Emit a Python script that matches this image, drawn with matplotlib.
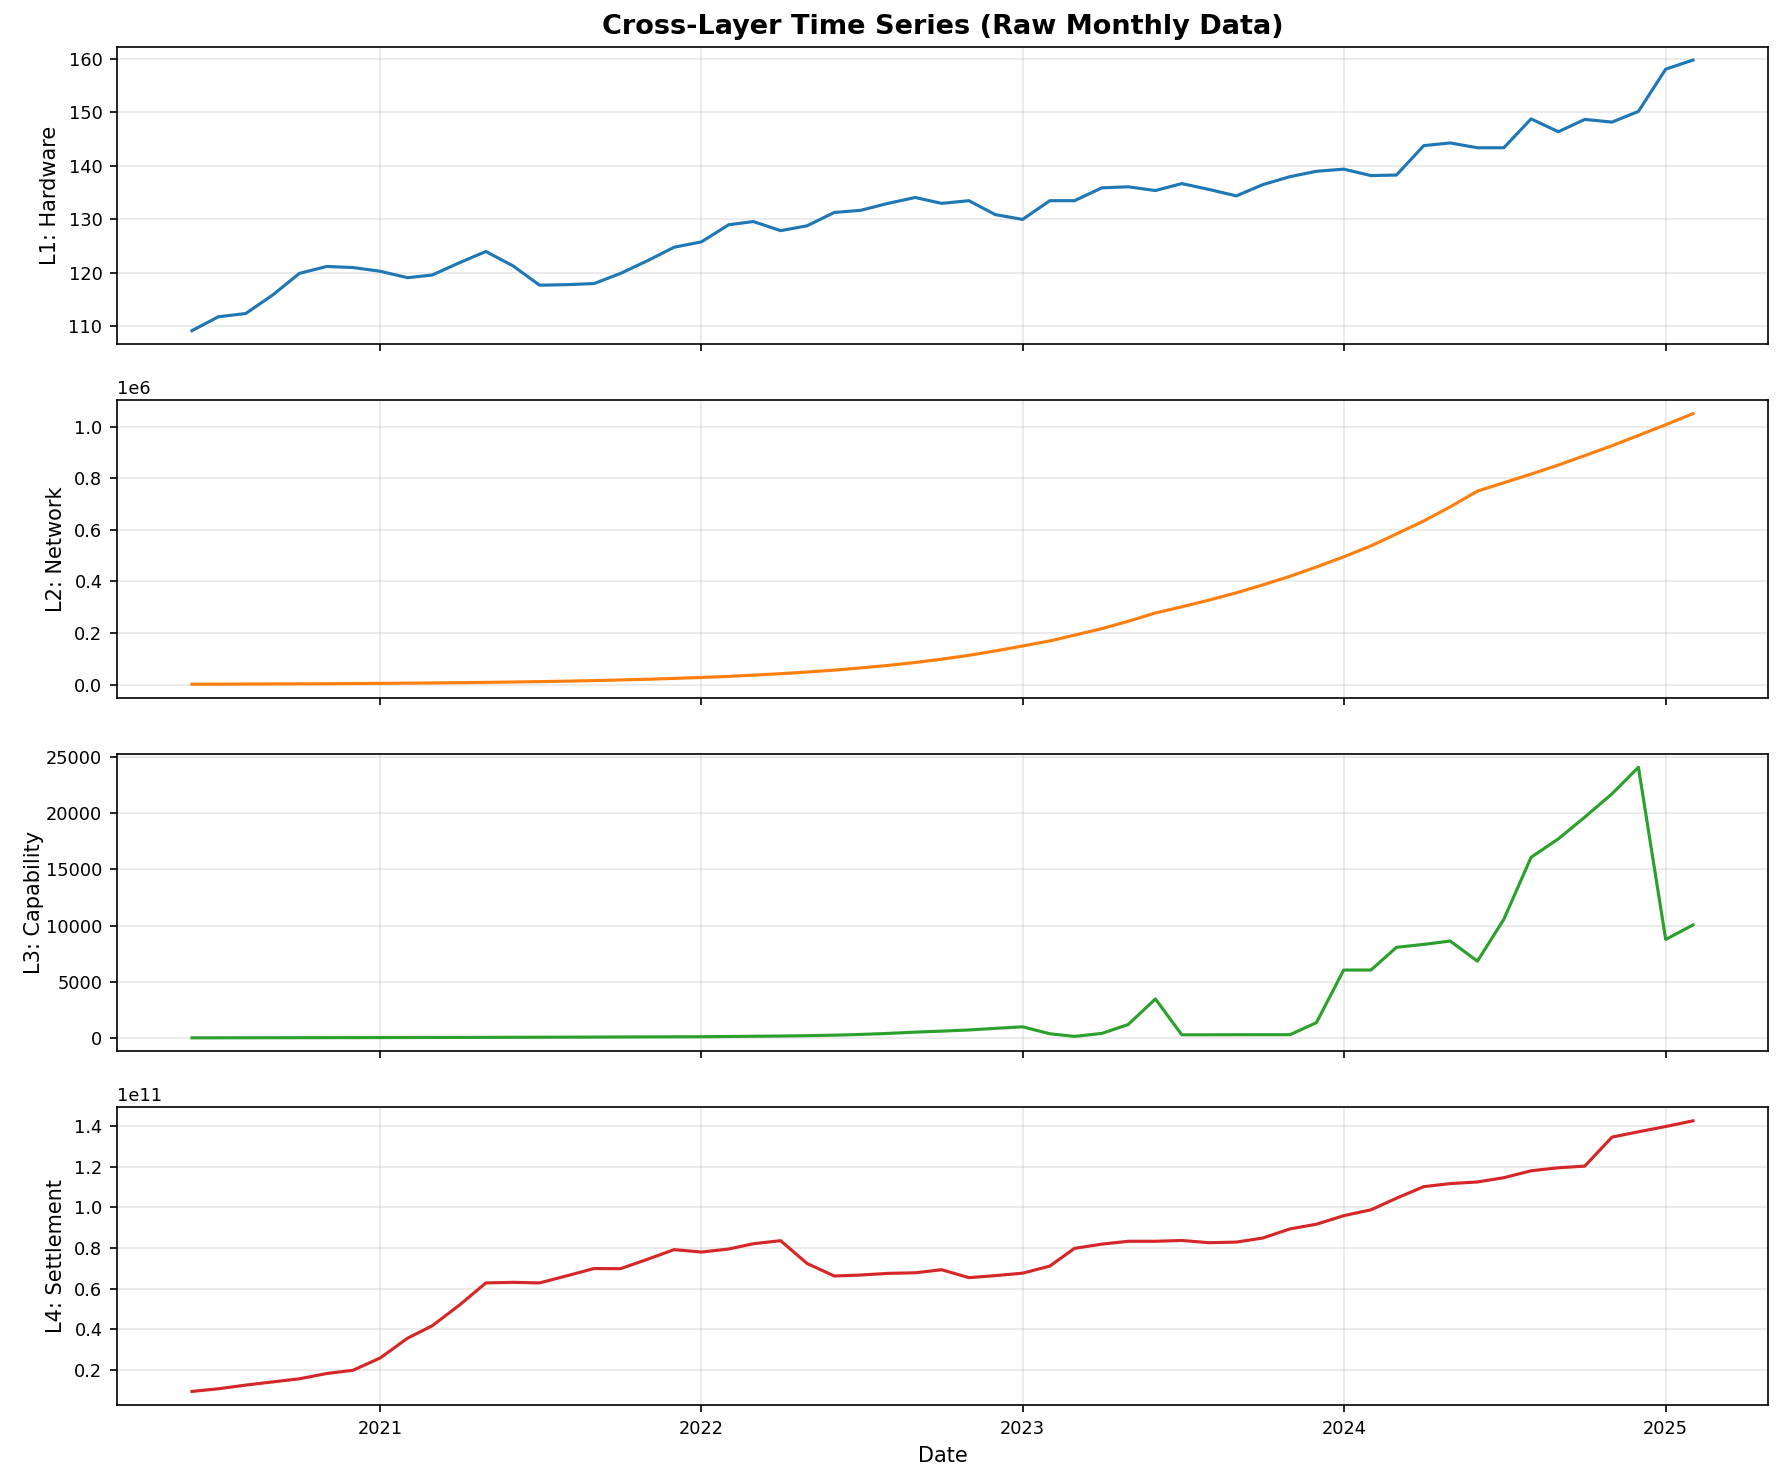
import numpy as np
import pandas as pd
import matplotlib
matplotlib.use("Agg")
import matplotlib.pyplot as plt


# monthly dates, 2020-06 .. 2025-02
dates = pd.date_range("2020-06-01", "2025-02-01", freq="MS")

# L1: hardware index
hardware = [109.2, 111.8, 112.4, 115.9, 119.9, 121.2, 121.0, 120.3, 119.1, 119.6,
            121.9, 124.0, 121.3, 117.7, 117.8, 118.0, 119.9, 122.3, 124.8, 125.8,
            129.0, 129.6, 127.9, 128.8, 131.3, 131.7, 133.0, 134.1, 133.0, 133.5,
            130.9, 130.0, 133.5, 133.5, 135.9, 136.1, 135.4, 136.7, 135.6, 134.4,
            136.5, 138.0, 139.0, 139.4, 138.2, 138.3, 143.8, 144.3, 143.4, 143.4,
            148.8, 146.4, 148.7, 148.2, 150.2, 158.1, 159.8]

# L2: network (millions)
network_m = [0.0020, 0.0023, 0.0027, 0.0031, 0.0035, 0.0040, 0.0046, 0.0053, 0.0061, 0.0070,
             0.0080, 0.0092, 0.0106, 0.0122, 0.0140, 0.0161, 0.0185, 0.0213, 0.0245, 0.0282,
             0.0324, 0.0372, 0.0428, 0.0492, 0.0566, 0.0651, 0.0749, 0.0861, 0.0990, 0.1139,
             0.1310, 0.1500, 0.1697, 0.1920, 0.2172, 0.2457, 0.2780, 0.3019, 0.3279, 0.3561,
             0.3867, 0.4200, 0.4561, 0.4953, 0.5379, 0.5842, 0.6344, 0.6890, 0.7500, 0.7823,
             0.8159, 0.8510, 0.8876, 0.9258, 0.9656, 1.0071, 1.0500]
network = np.array(network_m) * 1e6

# L3: capability
capability = [20, 22, 25, 28, 31, 34, 38, 42, 46, 50,
              55, 60, 66, 72, 79, 86, 94, 103, 110, 117,
              138, 158, 178, 210, 255, 320, 410, 526, 614, 720,
              860, 1000, 380, 146, 410, 1200, 3480, 290, 290, 295,
              300, 300, 1370, 6050, 6050, 8070, 8330, 8630, 6840, 10560,
              16080, 17720, 19650, 21730, 24090, 8770, 10060]

# L4: settlement (units of 1e11)
settlement_e11 = [0.094, 0.107, 0.125, 0.141, 0.156, 0.182, 0.198, 0.259, 0.356, 0.417,
                  0.519, 0.628, 0.631, 0.628, 0.663, 0.699, 0.698, 0.745, 0.792, 0.780,
                  0.795, 0.821, 0.836, 0.724, 0.662, 0.667, 0.675, 0.678, 0.693, 0.654,
                  0.664, 0.676, 0.711, 0.798, 0.819, 0.833, 0.833, 0.837, 0.826, 0.829,
                  0.849, 0.894, 0.917, 0.959, 0.988, 1.045, 1.102, 1.117, 1.125, 1.146,
                  1.180, 1.195, 1.203, 1.346, 1.372, 1.398, 1.426]
settlement = np.array(settlement_e11) * 1e11

series = [hardware, network, capability, settlement]
labels = ["L1: Hardware", "L2: Network", "L3: Capability", "L4: Settlement"]
colors = ["tab:blue", "tab:orange", "tab:green", "tab:red"]
pads = [4, 4, 1, 4]

fig, axes = plt.subplots(4, 1, figsize=(1783 / 150, 1482 / 150), dpi=150, sharex=True)

for ax, y, lab, c, p in zip(axes, series, labels, colors, pads):
    ax.plot(dates, y, color=c, linewidth=1.5)
    ax.set_ylabel(lab, fontsize=10, labelpad=p)
    ax.grid(True, alpha=0.3)
    ax.tick_params(labelsize=8.5)
    ax.yaxis.get_offset_text().set_fontsize(8.5)

axes[0].set_title("Cross-Layer Time Series (Raw Monthly Data)", fontsize=13, fontweight="bold")
axes[-1].set_xlabel("Date", fontsize=10)

plt.subplots_adjust(left=0.0656, right=0.9916, top=0.9686, bottom=0.052, hspace=0.188)
plt.savefig("out.png", dpi=150)
